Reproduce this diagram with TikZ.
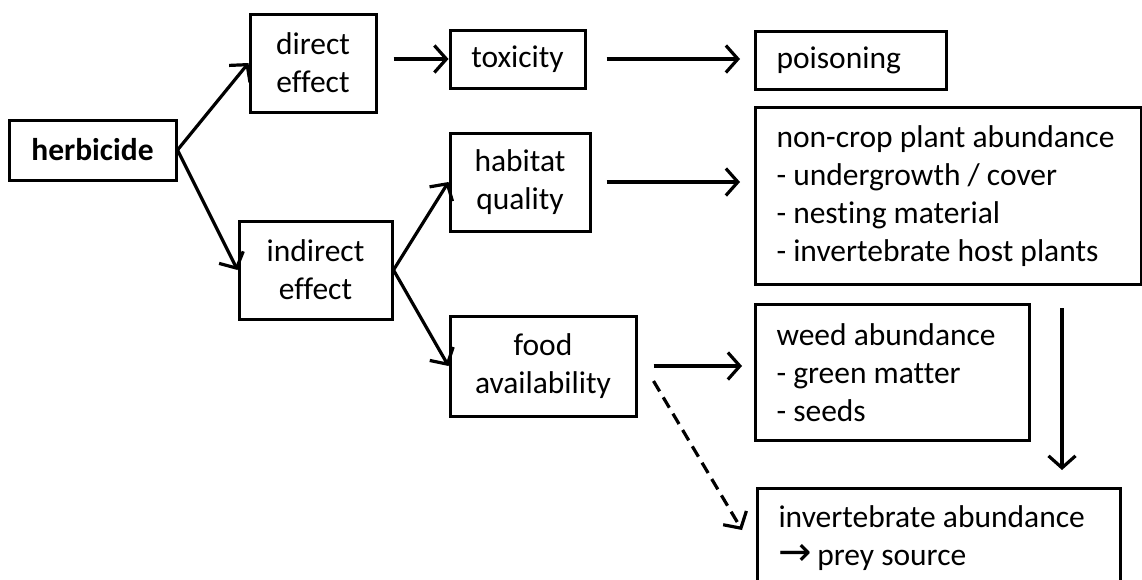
\documentclass[tikz,border=0pt]{standalone}
\usepackage{fontspec}
\setmainfont{Carlito}[Ligatures=NoCommon]
\newfontfamily\symfont{DejaVu Sans}
\usetikzlibrary{arrows.meta}

\begin{document}
\begin{tikzpicture}[x=1pt,y=-1pt,
    box/.style={draw,line width=3pt,inner sep=0pt,align=center,
      font=\fontsize{31.5}{38}\selectfont},
    lbox/.style={box,anchor=north west,align=flush left,inner xsep=21pt},
    arr/.style={line width=3.2pt,-{Straight Barb[length=12pt,width=27pt]}}]
  \clip (0,0) rectangle (1142,579);
  \node[box,minimum width=167,minimum height=60,font=\fontsize{31.5}{38}\selectfont\bfseries] (herb) at (92.5,150) {herbicide};
  \node[box,minimum width=126,minimum height=98] (direct) at (313,63) {direct\\effect};
  \node[box,minimum width=153,minimum height=98] (indirect) at (315.5,270) {indirect\\effect};
  \node[box,minimum width=135,minimum height=58] (tox) at (517.5,59) {toxicity};
  \node[box,minimum width=140,minimum height=98] (habitat) at (520,182) {habitat\\quality};
  \node[box,minimum width=186,minimum height=100] (food) at (543,366) {food\\availability};
  \node[lbox,text width=149,minimum height=58] (poison) at (754,30) {poisoning};
  \node[lbox,text width=344,minimum height=177] (noncrop) at (754,106)
    {non-crop plant abundance\\- undergrowth / cover\\- nesting material\\- invertebrate host plants};
  \node[lbox,text width=232,minimum height=136] (weed) at (754,303) {weed abundance\\- green matter\\- seeds};
  \node[lbox,text width=321,minimum height=100] (invert) at (756,487)
    {invertebrate abundance\\{\symfont\fontsize{40}{38}\selectfont→}\,prey source};
  \coordinate (vx) at (1062,0);
  \coordinate (dashend) at (742,530);

  \draw[arr] (herb.east) -- (direct.west);
  \draw[arr] (herb.east) -- (indirect.west);
  \draw[arr,shorten <=16pt] (direct.east |- tox.west) -- (tox.west);
  \draw[arr,shorten <=20pt,shorten >=14pt] (tox.east) -- (tox.east -| poison.west);
  \draw[arr] (indirect.east) -- (habitat.west);
  \draw[arr] (indirect.east) -- (food.west);
  \draw[arr,shorten <=15pt,shorten >=14pt] (habitat.east) -- (habitat.east -| noncrop.west);
  \draw[arr,shorten <=16pt,shorten >=12pt] (food.east) -- (food.east -| weed.west);
  \draw[arr,dash pattern=on 12pt off 7pt] ([shift={(16,15)}]food.east) -- (dashend);
  \draw[arr,shorten <=22pt,shorten >=17pt] (noncrop.south -| vx) -- (invert.north -| vx);
\end{tikzpicture}
\end{document}
